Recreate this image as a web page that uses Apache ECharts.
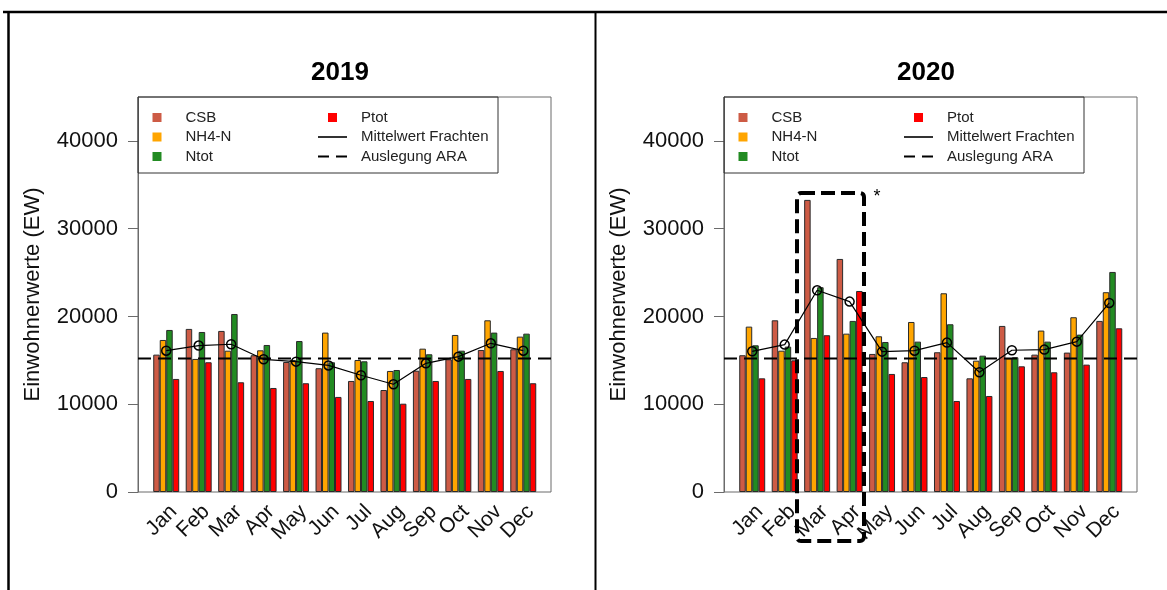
<!DOCTYPE html>
<html><head><meta charset="utf-8">
<script src="https://cdn.jsdelivr.net/npm/echarts@6/dist/echarts.min.js"></script>
<style>html,body{margin:0;padding:0;background:#fff}#c{width:1167px;height:590px}</style>
</head><body><div id="c"></div>
<script>
// ---- data ----
const months = ['Jan','Feb','Mar','Apr','May','Jun','Jul','Aug','Sep','Oct','Nov','Dec'];
const yTicks = [0, 10000, 20000, 30000, 40000];

const csb2019  = [15650, 18580, 18350, 15580, 14810, 14100, 12650, 11620, 13820, 15120, 16180, 16260];
const nh42019  = [17320, 15160, 16100, 16140, 15040, 18160, 15040, 13790, 16330, 17890, 19560, 17700];
const ntot2019 = [18460, 18230, 20280, 16750, 17200, 14780, 14890, 13900, 15690, 16100, 18160, 18040];
const ptot2019 = [12880, 14780, 12500, 11850, 12390, 10830, 10370, 10060, 12650, 12880, 13790, 12390];
const mean2019 = [16100, 16680, 16830, 15120, 14850, 14420, 13300, 12270, 14660, 15420, 16940, 16100];
const ara2019 = 15200;

const csb2020  = [15580, 19560, 33280, 26550, 15730, 14780, 15920, 12950, 18920, 15650, 15880, 19490];
const nh42020  = [18840, 16100, 17550, 18040, 17740, 19370, 22640, 14960, 15230, 18390, 19910, 22760];
const ntot2020 = [16710, 16560, 23330, 19490, 17090, 17130, 19110, 15530, 15350, 17130, 17930, 25070];
const ptot2020 = [12950, 15000, 17860, 22900, 13450, 13100, 10370, 10940, 14320, 13640, 14510, 18650];
const mean2020 = [16030, 16790, 22980, 21690, 15990, 16100, 17020, 13640, 16150, 16220, 17130, 21540];
const ara2020 = 15200;

// ---- styling ----
const FONT = '"Liberation Sans", Arial, sans-serif';
const COL = {CSB: '#CD5B45', NH4: '#FFA500', Ntot: '#228B22', Ptot: '#FF0000'};
const SQ = 'path://M0 0H10V10H0Z';
const SOLID = 'path://M0 0H29V1.6H0Z';
const DASH = 'path://M0 0H11V2H0Z M18 0H29V2H18Z';

const panels = [
  {off: 0,   title: '2019', csb: csb2019, nh4: nh42019, ntot: ntot2019, ptot: ptot2019, mean: mean2019, ara: ara2019},
  {off: 586, title: '2020', csb: csb2020, nh4: nh42020, ntot: ntot2020, ptot: ptot2020, mean: mean2020, ara: ara2020}
];

const grid = [], xAxis = [], yAxis = [], series = [], legend = [], title = [], graphic = [];

panels.forEach(function (p) {
  const off = p.off;
  const gBar = grid.length;
  grid.push({left: 150 + off, top: 97, width: 389.5, height: 395, show: false});
  const gBox = grid.length;
  grid.push({left: 138 + off, top: 97, width: 413, height: 395, show: true,
             borderColor: '#6b6b6b', borderWidth: 1, backgroundColor: 'transparent'});

  xAxis.push({type: 'category', gridIndex: gBar, data: months,
    axisLine: {show: false}, axisTick: {show: false}, splitLine: {show: false},
    axisLabel: {interval: 0, rotate: 45, fontSize: 21, color: '#111', fontFamily: FONT,
                margin: 9, verticalAlign: 'top'}});
  xAxis.push({type: 'value', gridIndex: gBox, min: 0, max: 1, show: false});

  yAxis.push({type: 'value', gridIndex: gBar, min: 0, max: 45000, offset: 12,
    splitLine: {show: false},
    axisLine: {show: true, lineStyle: {color: '#6b6b6b', width: 1}},
    axisTick: {show: true, length: 10, customValues: yTicks, lineStyle: {color: '#6b6b6b'}},
    axisLabel: {customValues: yTicks, fontSize: 22, color: '#111', fontFamily: FONT, margin: 20,
                formatter: function (v) { return String(v); }},
    name: 'Einwohnerwerte (EW)', nameLocation: 'middle', nameGap: 94,
    nameTextStyle: {fontSize: 22, color: '#111', fontFamily: FONT}});
  yAxis.push({type: 'value', gridIndex: gBox, min: 0, max: 45000, show: false});

  const bars = [['CSB', p.csb, COL.CSB], ['NH4-N', p.nh4, COL.NH4], ['Ntot', p.ntot, COL.Ntot], ['Ptot', p.ptot, COL.Ptot]];
  bars.forEach(function (b) {
    series.push({type: 'bar', name: b[0], xAxisIndex: gBar, yAxisIndex: gBar, data: b[1],
      barGap: '0%', barCategoryGap: '20%', z: 2,
      itemStyle: {color: b[2], borderColor: '#2a2a2a', borderWidth: 1}});
  });
  series.push({type: 'line', name: 'Auslegung ARA', xAxisIndex: gBox, yAxisIndex: gBox,
    data: [[0, p.ara], [1, p.ara]], symbol: 'none', z: 3,
    itemStyle: {color: '#000'},
    lineStyle: {color: '#000', width: 2, type: [13, 7]}});
  series.push({type: 'line', name: 'Mittelwert Frachten', xAxisIndex: gBar, yAxisIndex: gBar,
    data: p.mean, symbol: 'circle', symbolSize: 9, z: 4,
    itemStyle: {color: 'rgba(0,0,0,0)', borderColor: '#000', borderWidth: 1.5},
    lineStyle: {color: '#000', width: 1.2}});

  const legBase = {orient: 'vertical', top: 110, itemWidth: 29, itemHeight: 9, itemGap: 4.5,
    symbolKeepAspect: true, selectedMode: false, padding: 0,
    itemStyle: {borderWidth: 0},
    textStyle: {fontSize: 15, color: '#222', fontFamily: FONT, lineHeight: 14, padding: [0, 0, 0, 9]}};
  // square-only legend: its bounding box starts at the (centred) square
  legend.push(Object.assign({}, legBase, {left: 152.5 + off,
    data: [{name: 'CSB', icon: SQ}, {name: 'NH4-N', icon: SQ}, {name: 'Ntot', icon: SQ}]}));
  legend.push(Object.assign({}, legBase, {left: 318 + off,
    data: [{name: 'Ptot', icon: SQ},
           {name: 'Mittelwert Frachten', icon: SOLID, itemStyle: {color: '#000'}},
           {name: 'Auslegung ARA', icon: DASH, itemStyle: {color: '#000'}}]}));

  title.push({text: p.title, left: 311 + off, top: 60, padding: 0,
    textStyle: {fontSize: 26, fontWeight: 'bold', color: '#000', fontFamily: FONT}});

  graphic.push({type: 'rect', shape: {x: 138 + off, y: 97, width: 360, height: 76},
    style: {fill: 'none', stroke: '#333', lineWidth: 1}, z: 50});
});

// outer frame
graphic.push({type: 'line', shape: {x1: 3, y1: 12, x2: 1167, y2: 12}, style: {stroke: '#000', lineWidth: 2.5}, z: 50});
graphic.push({type: 'line', shape: {x1: 8.5, y1: 11, x2: 8.5, y2: 590}, style: {stroke: '#000', lineWidth: 2.5}, z: 50});
graphic.push({type: 'line', shape: {x1: 595.5, y1: 11, x2: 595.5, y2: 590}, style: {stroke: '#000', lineWidth: 2}, z: 50});
// annotation box around Mar/Apr 2020
graphic.push({type: 'rect', shape: {x: 797, y: 193, width: 67, height: 348, r: 4},
  style: {fill: 'none', stroke: '#000', lineWidth: 4, lineDash: [14, 6]}, z: 100});
graphic.push({type: 'text', style: {text: '*', x: 877, y: 197, font: '18px "Liberation Sans", Arial',
  fill: '#000', align: 'center', verticalAlign: 'middle'}, z: 100});

const chart = echarts.init(document.getElementById('c'), null, {renderer: 'canvas'});
chart.setOption({
  animation: false,
  backgroundColor: '#fff',
  title: title, grid: grid, xAxis: xAxis, yAxis: yAxis, series: series, legend: legend, graphic: graphic
});
</script></body></html>
